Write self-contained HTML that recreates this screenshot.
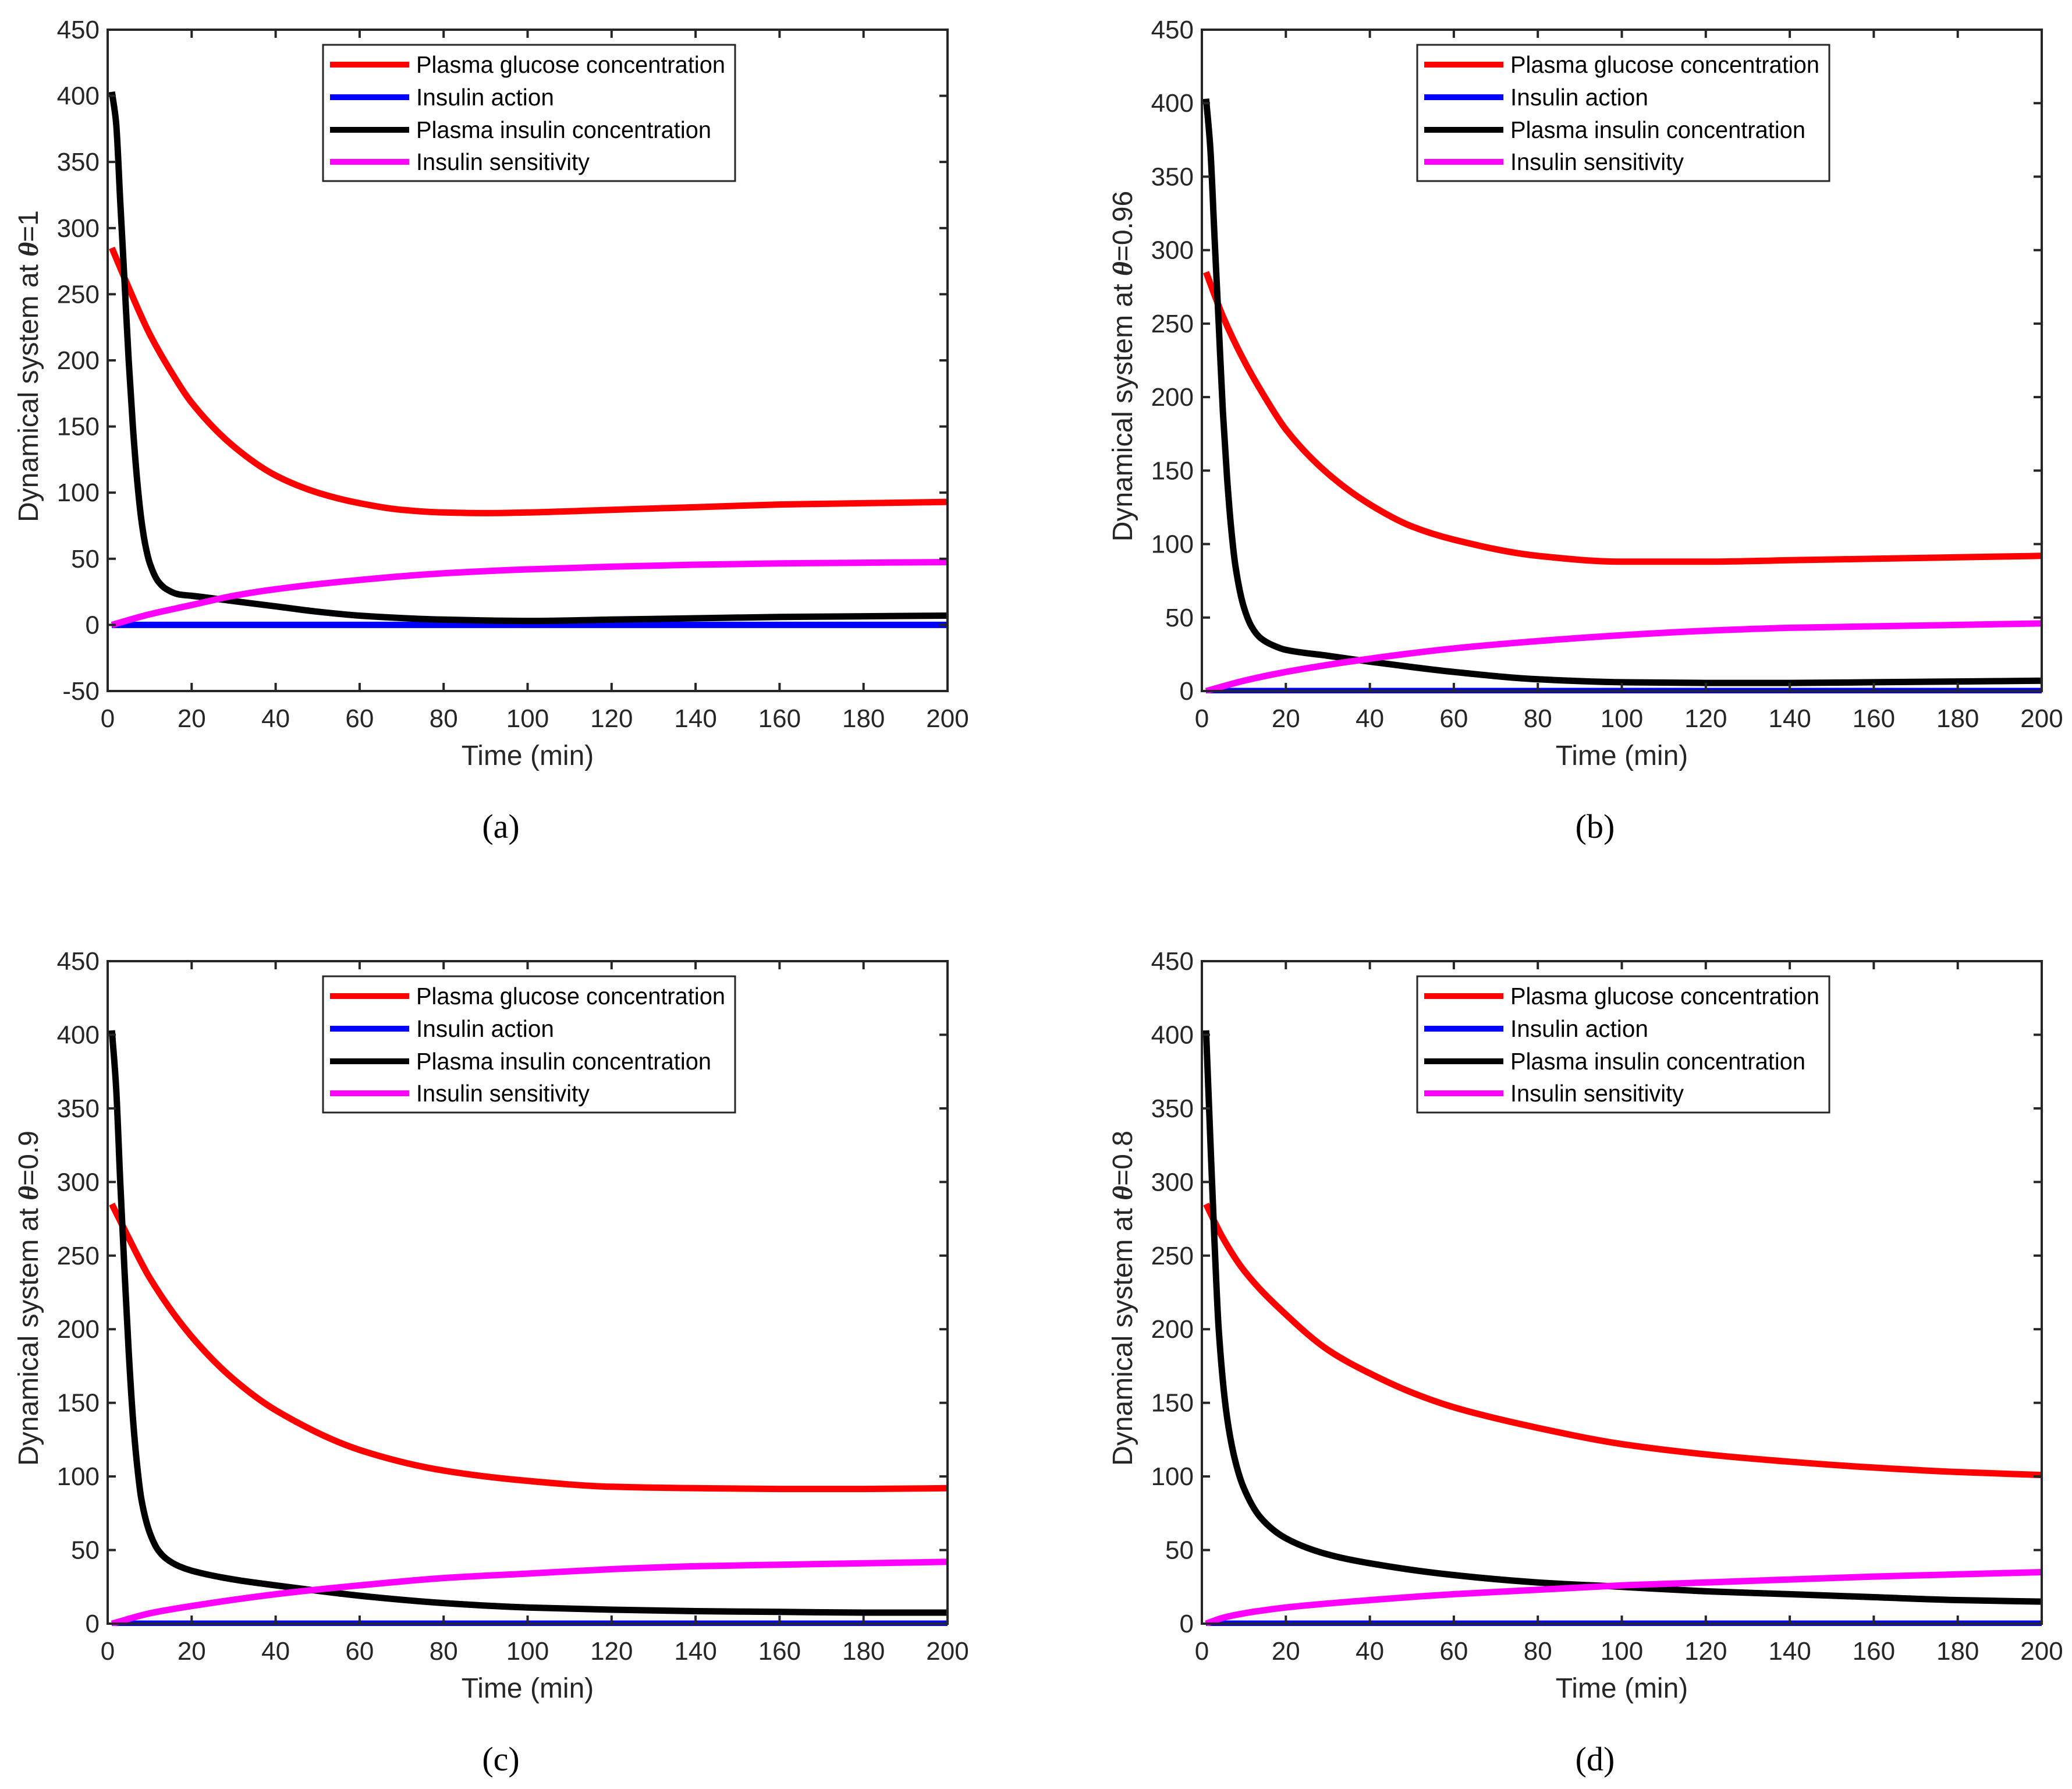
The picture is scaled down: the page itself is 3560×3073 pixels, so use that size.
<!DOCTYPE html>
<html><head><meta charset="utf-8">
<style>
html,body{margin:0;padding:0;background:#fff;}
svg{display:block;}
text{font-family:"Liberation Sans",sans-serif;}
</style></head>
<body>
<svg id="fig" width="3560" height="3073" viewBox="0 0 3560 3073" xmlns="http://www.w3.org/2000/svg"></svg>
<script>
// ---- data ----
const seriesNames = ["Plasma glucose concentration","Insulin action","Plasma insulin concentration","Insulin sensitivity"];
const seriesColors = ["#ff0000","#0000ff","#000000","#ff00ff"];
const xTicks = [0,20,40,60,80,100,120,140,160,180,200];

// panel (a) theta=1
const aGlucoseT = [1,5,10,15,20,30,40,50,60,70,80,90,100,120,140,160,180,200];
const aGlucoseV = [285,255,220,192,168,135,113,100,92,87,85,84.5,85,87,89,91,92,93];
const aInsulinT = [1,2,3,4,5,6,7,8,9,10,12,14,17,20,30,40,50,60,80,100,120,140,160,180,200];
const aInsulinV = [403,380,320,260,200,150,110,80,60,47,33,27,23,22,18,14,10,7,4,3,4,5,6,6.5,7];
const aSensT = [1,10,20,30,40,60,80,100,120,140,160,180,200];
const aSensV = [0,8,15,22,27,34,39,42,44,45.5,46.5,47,47.5];
const aActionT = [1,200];
const aActionV = [0,0];

// panel (b) theta=0.96
const bGlucoseT = [1,5,10,15,20,30,40,50,60,80,100,120,140,160,180,200];
const bGlucoseV = [285,255,225,200,178,148,127,112,103,92,88,88,89,90,91,92];
const bInsulinT = [1,2,3,4,5,6,7,8,10,12,14,17,20,30,40,60,80,100,120,140,160,180,200];
const bInsulinV = [403,370,310,250,190,145,110,85,57,43,36,31,28,24,20,13,8,6,5.5,5.5,6,6.5,7];
const bSensT = [1,10,20,40,60,80,100,120,140,160,180,200];
const bSensV = [0,7,13,22,29,34,38,41,43,44,45,46];
const bActionT = [1,200];
const bActionV = [0,0];

// panel (c) theta=0.9
const cGlucoseT = [1,5,10,20,30,40,60,80,100,120,140,160,180,200];
const cGlucoseV = [285,262,235,195,166,145,118,104,97,93,92,91.5,91.5,92];
const cInsulinT = [1,2,3,4,5,6,7,8,10,12,14,17,20,30,40,60,80,100,120,140,160,180,200];
const cInsulinV = [403,365,300,240,185,140,108,85,62,50,44,39,36,30,26,19,14,11,9.5,8.5,8,7.5,7.5];
const cSensT = [1,10,20,40,60,80,100,120,140,160,180,200];
const cSensV = [0,7,12,20,26,31,34,37,39,40,41,42];
const cActionT = [1,200];
const cActionV = [0,0];

// panel (d) theta=0.8
const dGlucoseT = [1,5,10,20,30,40,50,60,80,100,120,140,160,180,200];
const dGlucoseV = [285,262,240,210,186,170,157,147,133,122,115,110,106,103,101];
const dInsulinT = [1,2,3,4,6,8,10,14,20,30,40,60,80,100,120,140,160,180,200];
const dInsulinV = [403,330,260,200,140,110,92,72,58,47,41,33,28,25,22,20,18,16,15];
const dSensT = [1,5,10,20,40,60,80,100,120,140,160,180,200];
const dSensV = [0,4,7,11,16,20,23,26,28,30,32,33.5,35];
const dActionT = [1,200];
const dActionV = [0,0];

const panels = [
 {id:"a", theta:"1", x0:185, x1:1628, y0:51, y1:1187, ymin:-50, ymax:450,
  s:[[aGlucoseT,aGlucoseV],[aActionT,aActionV],[aInsulinT,aInsulinV],[aSensT,aSensV]]},
 {id:"b", theta:"0.96", x0:2065, x1:3508, y0:51, y1:1187, ymin:0, ymax:450,
  s:[[bGlucoseT,bGlucoseV],[bActionT,bActionV],[bInsulinT,bInsulinV],[bSensT,bSensV]]},
 {id:"c", theta:"0.9", x0:185, x1:1628, y0:1651, y1:2789, ymin:0, ymax:450,
  s:[[cGlucoseT,cGlucoseV],[cActionT,cActionV],[cInsulinT,cInsulinV],[cSensT,cSensV]]},
 {id:"d", theta:"0.8", x0:2065, x1:3508, y0:1651, y1:2789, ymin:0, ymax:450,
  s:[[dGlucoseT,dGlucoseV],[dActionT,dActionV],[dInsulinT,dInsulinV],[dSensT,dSensV]]}
];

const NS="http://www.w3.org/2000/svg";
const svg=document.getElementById("fig");
function mk(tag, attrs, parent){
  const e=document.createElementNS(NS,tag);
  for(const k in attrs) e.setAttribute(k,attrs[k]);
  (parent||svg).appendChild(e);
  return e;
}
// monotone cubic (Fritsch-Carlson) path
function monoPath(X,Y){
  const n=X.length;
  if(n<3){return "M"+X.map((x,i)=>x.toFixed(1)+","+Y[i].toFixed(1)).join(" L");}
  const d=[],m=[];
  for(let i=0;i<n-1;i++) d.push((Y[i+1]-Y[i])/(X[i+1]-X[i]));
  m[0]=d[0]; m[n-1]=d[n-2];
  for(let i=1;i<n-1;i++){
    if(d[i-1]*d[i]<=0) m[i]=0;
    else { const w1=2*(X[i+1]-X[i])+(X[i]-X[i-1]), w2=(X[i+1]-X[i])+2*(X[i]-X[i-1]);
      m[i]=(w1+w2)/(w1/d[i-1]+w2/d[i]); }
  }
  let p="M"+X[0].toFixed(1)+","+Y[0].toFixed(1);
  for(let i=0;i<n-1;i++){
    const h=X[i+1]-X[i];
    p+=" C"+(X[i]+h/3).toFixed(1)+","+(Y[i]+m[i]*h/3).toFixed(1)+" "+
       (X[i+1]-h/3).toFixed(1)+","+(Y[i+1]-m[i+1]*h/3).toFixed(1)+" "+
       X[i+1].toFixed(1)+","+Y[i+1].toFixed(1);
  }
  return p;
}

panels.forEach(p=>{
  const g=mk("g",{});
  
  
  const xs=v=>p.x0+(v-0)/(200-0)*(p.x1-p.x0);
  const ys=v=>p.y1-(v-p.ymin)/(p.ymax-p.ymin)*(p.y1-p.y0);
  const ax="#262626";
  const cid="clip"+p.id;
  const cp=mk("clipPath",{id:cid},g);
  mk("rect",{x:p.x0,y:p.y0-10,width:p.x1-p.x0,height:p.y1-p.y0+14},cp);
  const sg=mk("g",{"clip-path":"url(#"+cid+")"},g);
  p.s.forEach((sr,i)=>{
    const X=sr[0].map(xs), Y=sr[1].map(ys);
    const pl=mk("path",{d:monoPath(X,Y),fill:"none",stroke:seriesColors[i],"stroke-width":11,"stroke-linejoin":"round"},sg);
    
    
  });
  const box=mk("rect",{x:p.x0,y:p.y0,width:p.x1-p.x0,height:p.y1-p.y0,fill:"none",stroke:ax,"stroke-width":4},g);
  
  
  xTicks.forEach(t=>{
    const x=xs(t);
    mk("line",{x1:x,y1:p.y1,x2:x,y2:p.y1-14,stroke:ax,"stroke-width":4},g);
    mk("line",{x1:x,y1:p.y0,x2:x,y2:p.y0+14,stroke:ax,"stroke-width":4},g);
    const tl=mk("text",{x:x,y:p.y1+62,"font-size":44,fill:ax,"text-anchor":"middle"},g);
    tl.textContent=t;
    
    
  });
  for(let v=p.ymin; v<=p.ymax; v+=50){
    const y=ys(v);
    mk("line",{x1:p.x0,y1:y,x2:p.x0+14,y2:y,stroke:ax,"stroke-width":4},g);
    mk("line",{x1:p.x1,y1:y,x2:p.x1-14,y2:y,stroke:ax,"stroke-width":4},g);
    const tl=mk("text",{x:p.x0-14,y:y+15,"font-size":44,fill:ax,"text-anchor":"end"},g);
    tl.textContent=v;
    
    
  }
  const xl=mk("text",{x:(p.x0+p.x1)/2,y:p.y1+127,"font-size":48,fill:ax,"text-anchor":"middle"},g);
  xl.textContent="Time (min)";
  
  
  const yc=(p.y0+p.y1)/2+10;
  const ylx=p.x0-120;
  const yl=mk("text",{x:ylx,y:yc,"font-size":48,fill:ax,"text-anchor":"middle",transform:"rotate(-90 "+ylx+" "+yc+")"},g);
  yl.innerHTML='Dynamical system at <tspan font-style="italic" font-family="Liberation Serif, serif" font-weight="bold">θ</tspan>='+p.theta;
  
  
  const lx=p.x0+370, ly=p.y0+26;
  const lg=mk("g",{},g);
  
  
  mk("rect",{x:lx,y:ly,width:708,height:234,fill:"#fff",stroke:ax,"stroke-width":3},lg);
  const rows=[ly+34,ly+90,ly+146,ly+201];
  seriesNames.forEach((n,i)=>{
    const ln=mk("line",{x1:lx+12,y1:rows[i],x2:lx+148,y2:rows[i],stroke:seriesColors[i],"stroke-width":10},lg);
    
    
    const widths=[531,237,507,298];
    const tx=mk("text",{x:lx+160,y:rows[i]+14,"font-size":41,fill:"#000",textLength:widths[i],lengthAdjust:"spacingAndGlyphs"},lg);
    tx.textContent=n;
    
    
  });
  const cap=mk("text",{x:(p.x0+p.x1)/2-46,y:p.y1+252,"font-size":58,fill:"#000","text-anchor":"middle"},g);
  cap.setAttribute("style","font-family:'Liberation Serif',serif");
  cap.textContent="("+p.id+")";
  
  
});
</script>
</body></html>
